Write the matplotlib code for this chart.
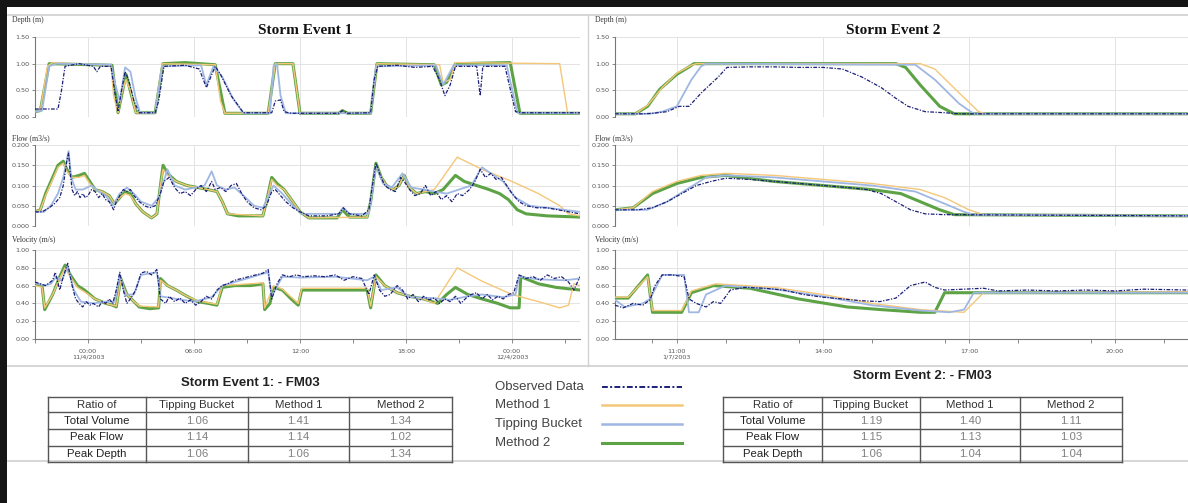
import numpy as np
import matplotlib.pyplot as plt
from matplotlib.lines import Line2D
from matplotlib.patches import Rectangle
from matplotlib.ticker import FormatStrFormatter, MultipleLocator

# ============================================================
# DATA  (time in hours, depth m, flow m3/s, velocity m/s)
# ============================================================

# --- Storm Event 1 (hours from 00:00 11/4/2003) ---
dep1_obs = [(-3.0, 0.15), (-1.7, 0.15), (-1.5, 0.5), (-1.3, 0.95), (-0.5, 1.0), (0.3, 0.95), (0.5, 0.85),
            (0.7, 0.95), (1.3, 0.95), (1.5, 0.5), (1.7, 0.1), (1.9, 0.5), (2.1, 0.85), (2.3, 0.7), (2.6, 0.3),
            (2.9, 0.08), (3.8, 0.08), (4.0, 0.3), (4.3, 0.95), (5.5, 0.97), (6.3, 0.9), (6.7, 0.55), (7.2, 0.95),
            (7.5, 0.8), (8.1, 0.4), (8.8, 0.08), (10.4, 0.08), (10.6, 0.3), (10.9, 0.32), (11.1, 0.1),
            (11.5, 0.07), (14.2, 0.07), (14.4, 0.12), (14.7, 0.07), (16.0, 0.08), (16.2, 0.7), (16.4, 0.95),
            (17.5, 0.97), (18.5, 0.93), (19.5, 0.95), (19.9, 0.7), (20.2, 0.4), (20.5, 0.6), (20.8, 0.95),
            (22.0, 0.95), (22.2, 0.4), (22.35, 0.95), (23.6, 0.95), (24.2, 0.1), (24.6, 0.08), (27.85, 0.08)]
dep1_m1 = [(-3.0, 0.1), (-2.7, 0.12), (-2.3, 0.95), (-2.0, 1.02), (1.3, 0.97), (1.45, 0.4), (1.7, 0.08),
           (1.95, 0.5), (2.15, 0.7), (2.4, 0.5), (2.7, 0.08), (3.8, 0.08), (4.2, 1.0), (7.2, 0.98), (7.5, 0.3),
           (7.75, 0.07), (10.2, 0.07), (10.6, 1.0), (11.6, 1.0), (12.0, 0.07), (16.0, 0.07), (16.36, 1.0),
           (19.9, 0.98), (20.1, 0.65), (20.5, 0.7), (20.8, 1.02), (26.7, 1.0), (27.15, 0.07), (27.85, 0.07)]
dep1_tb = [(-3.0, 0.1), (-2.6, 0.12), (-2.2, 0.95), (-1.8, 1.0), (1.3, 0.98), (1.55, 0.6), (1.8, 0.3),
           (2.1, 0.93), (2.4, 0.85), (2.7, 0.35), (2.95, 0.08), (3.8, 0.08), (4.2, 0.95), (6.4, 0.97), (6.7, 0.6),
           (7.1, 0.95), (7.6, 0.75), (8.2, 0.35), (8.8, 0.07), (10.3, 0.07), (10.5, 0.95), (10.7, 1.0),
           (10.9, 0.4), (11.2, 0.07), (16.0, 0.07), (16.3, 0.95), (19.7, 0.97), (20.1, 0.6), (20.7, 0.97),
           (23.7, 0.97), (24.3, 0.08), (27.85, 0.07)]
dep1_m2 = [(-3.0, 0.1), (-2.7, 0.12), (-2.2, 1.0), (1.36, 0.97), (1.7, 0.08), (2.15, 0.8), (2.72, 0.08),
           (3.8, 0.08), (4.24, 1.0), (5.5, 1.02), (7.2, 0.98), (7.75, 0.07), (10.2, 0.07), (10.6, 1.0),
           (11.6, 1.0), (12.0, 0.07), (14.2, 0.07), (14.4, 0.12), (14.7, 0.07), (16.0, 0.07), (16.36, 1.0),
           (19.6, 0.98), (20.0, 0.6), (20.3, 0.65), (20.8, 1.0), (23.9, 1.02), (24.45, 0.07), (27.85, 0.07)]

flow1_obs = [(-3.0, 0.035), (-2.6, 0.035), (-2.2, 0.045), (-1.9, 0.055), (-1.6, 0.07), (-1.4, 0.1), (-1.2, 0.16),
             (-1.1, 0.18), (-1.0, 0.13), (-0.9, 0.09), (-0.75, 0.075), (-0.6, 0.085), (-0.45, 0.07), (-0.3, 0.08),
             (-0.15, 0.07), (0.0, 0.075), (0.2, 0.09), (0.4, 0.085), (0.6, 0.07), (0.8, 0.08), (1.0, 0.065),
             (1.2, 0.06), (1.45, 0.04), (1.6, 0.06), (1.8, 0.075), (2.0, 0.09), (2.2, 0.085), (2.4, 0.09),
             (2.6, 0.075), (2.9, 0.06), (3.2, 0.05), (3.5, 0.045), (3.8, 0.05), (4.1, 0.08), (4.3, 0.11),
             (4.6, 0.12), (4.9, 0.095), (5.2, 0.08), (5.5, 0.085), (5.8, 0.075), (6.1, 0.09), (6.4, 0.1),
             (6.7, 0.085), (7.0, 0.11), (7.2, 0.09), (7.5, 0.095), (7.8, 0.085), (8.1, 0.1), (8.4, 0.105),
             (8.7, 0.08), (9.0, 0.06), (9.4, 0.045), (9.8, 0.04), (10.1, 0.05), (10.4, 0.085), (10.6, 0.09),
             (10.9, 0.075), (11.2, 0.06), (11.6, 0.045), (12.0, 0.035), (12.5, 0.025), (13.5, 0.025),
             (14.2, 0.03), (14.45, 0.045), (14.8, 0.03), (15.5, 0.025), (15.9, 0.04), (16.1, 0.1),
             (16.3, 0.155), (16.5, 0.13), (16.8, 0.1), (17.1, 0.09), (17.4, 0.085), (17.7, 0.12), (17.9, 0.11),
             (18.2, 0.09), (18.5, 0.075), (18.8, 0.08), (19.1, 0.1), (19.4, 0.075), (19.7, 0.085), (20.0, 0.065),
             (20.3, 0.075), (20.6, 0.06), (20.9, 0.08), (21.2, 0.075), (21.6, 0.09), (21.9, 0.11), (22.2, 0.14),
             (22.5, 0.12), (22.8, 0.13), (23.1, 0.115), (23.4, 0.12), (23.7, 0.1), (24.0, 0.08), (24.4, 0.06),
             (24.8, 0.05), (25.4, 0.045), (26.0, 0.045), (26.6, 0.04), (27.2, 0.035), (27.85, 0.03)]
flow1_m1 = [(-3.0, 0.035), (-2.7, 0.04), (-2.4, 0.075), (-2.0, 0.115), (-1.7, 0.145), (-1.4, 0.155),
            (-1.2, 0.135), (-0.9, 0.12), (-0.5, 0.12), (-0.2, 0.125), (0.1, 0.105), (0.4, 0.09), (0.8, 0.085),
            (1.2, 0.075), (1.5, 0.055), (1.8, 0.07), (2.1, 0.08), (2.4, 0.075), (2.7, 0.055), (3.1, 0.035),
            (3.6, 0.02), (3.9, 0.03), (4.1, 0.1), (4.25, 0.14), (4.5, 0.125), (5.0, 0.11), (5.6, 0.1),
            (6.2, 0.095), (6.8, 0.09), (7.3, 0.085), (7.6, 0.06), (7.9, 0.03), (9.9, 0.025), (10.1, 0.06),
            (10.4, 0.115), (10.7, 0.1), (11.1, 0.09), (11.6, 0.06), (12.0, 0.035), (12.5, 0.02), (15.8, 0.022),
            (16.0, 0.06), (16.3, 0.15), (16.6, 0.12), (16.9, 0.1), (17.3, 0.09), (17.6, 0.1), (17.9, 0.125),
            (18.2, 0.095), (18.6, 0.08), (19.1, 0.085), (19.6, 0.09), (20.9, 0.17), (22.3, 0.14), (24.0, 0.11),
            (25.5, 0.08), (26.7, 0.05), (27.2, 0.03), (27.85, 0.025)]
flow1_tb = [(-3.0, 0.035), (-2.5, 0.035), (-2.1, 0.05), (-1.7, 0.08), (-1.4, 0.12), (-1.1, 0.185), (-0.95, 0.12),
            (-0.7, 0.09), (-0.3, 0.09), (0.2, 0.1), (0.6, 0.085), (1.0, 0.075), (1.4, 0.05), (1.8, 0.08),
            (2.2, 0.095), (2.6, 0.08), (3.0, 0.06), (3.6, 0.05), (4.0, 0.07), (4.5, 0.14), (4.9, 0.1),
            (5.5, 0.09), (6.1, 0.095), (6.6, 0.1), (7.0, 0.135), (7.3, 0.1), (7.8, 0.09), (8.3, 0.095),
            (8.8, 0.075), (9.4, 0.05), (9.9, 0.045), (10.5, 0.1), (11.0, 0.08), (11.6, 0.05), (12.1, 0.03),
            (14.2, 0.03), (14.45, 0.045), (14.8, 0.03), (15.9, 0.03), (16.3, 0.15), (16.7, 0.105), (17.2, 0.095),
            (17.8, 0.13), (18.3, 0.095), (19.0, 0.09), (19.6, 0.085), (20.3, 0.08), (21.0, 0.09), (21.7, 0.1),
            (22.3, 0.145), (22.8, 0.13), (23.5, 0.11), (24.2, 0.07), (25.0, 0.05), (26.0, 0.045),
            (27.85, 0.035)]
flow1_m2 = [(-3.0, 0.035), (-2.7, 0.04), (-2.4, 0.08), (-2.0, 0.12), (-1.7, 0.15), (-1.4, 0.16), (-1.2, 0.14),
            (-0.9, 0.12), (-0.5, 0.125), (-0.2, 0.13), (0.1, 0.11), (0.4, 0.09), (0.8, 0.085), (1.2, 0.075),
            (1.5, 0.055), (1.8, 0.07), (2.1, 0.085), (2.4, 0.08), (2.7, 0.055), (3.1, 0.035), (3.6, 0.02),
            (3.9, 0.03), (4.1, 0.1), (4.25, 0.15), (4.5, 0.13), (5.0, 0.11), (5.6, 0.1), (6.2, 0.095),
            (6.8, 0.09), (7.3, 0.085), (7.6, 0.06), (7.9, 0.03), (8.5, 0.025), (9.9, 0.025), (10.1, 0.06),
            (10.4, 0.12), (10.7, 0.105), (11.1, 0.09), (11.6, 0.06), (12.0, 0.035), (12.5, 0.02), (14.1, 0.02),
            (14.4, 0.04), (14.8, 0.022), (15.8, 0.022), (16.0, 0.06), (16.3, 0.155), (16.6, 0.12), (16.9, 0.1),
            (17.3, 0.09), (17.6, 0.1), (17.9, 0.125), (18.2, 0.095), (18.6, 0.08), (19.1, 0.085), (19.6, 0.08),
            (20.1, 0.09), (20.8, 0.125), (21.3, 0.11), (22.0, 0.1), (22.7, 0.09), (23.3, 0.08), (23.8, 0.065),
            (24.3, 0.04), (24.8, 0.03), (26.0, 0.025), (27.85, 0.022)]

vel1_obs = [(-3.0, 0.64), (-2.7, 0.62), (-2.4, 0.6), (-2.0, 0.66), (-1.85, 0.75), (-1.6, 0.55), (-1.4, 0.7),
            (-1.15, 0.85), (-0.9, 0.6), (-0.7, 0.45), (-0.5, 0.4), (-0.3, 0.36), (-0.1, 0.42), (0.1, 0.38),
            (0.3, 0.4), (0.6, 0.36), (0.8, 0.42), (1.0, 0.4), (1.2, 0.45), (1.4, 0.4), (1.6, 0.55), (1.8, 0.75),
            (2.0, 0.55), (2.2, 0.4), (2.4, 0.45), (2.7, 0.55), (3.0, 0.74), (3.3, 0.76), (3.6, 0.72),
            (3.9, 0.78), (4.1, 0.45), (4.4, 0.4), (4.6, 0.48), (4.9, 0.42), (5.2, 0.46), (5.5, 0.4), (5.8, 0.44),
            (6.1, 0.38), (6.4, 0.42), (6.7, 0.48), (7.0, 0.45), (7.3, 0.55), (7.6, 0.6), (7.9, 0.62),
            (8.3, 0.66), (8.7, 0.68), (9.1, 0.7), (9.5, 0.72), (9.9, 0.74), (10.2, 0.78), (10.4, 0.45),
            (10.7, 0.62), (11.0, 0.72), (11.4, 0.7), (11.8, 0.72), (12.2, 0.7), (12.8, 0.71), (13.4, 0.7),
            (14.0, 0.72), (14.5, 0.66), (15.0, 0.7), (15.5, 0.68), (15.9, 0.5), (16.2, 0.72), (16.5, 0.55),
            (16.8, 0.48), (17.1, 0.5), (17.5, 0.6), (17.8, 0.55), (18.1, 0.45), (18.4, 0.5), (18.7, 0.42),
            (19.0, 0.48), (19.3, 0.44), (19.6, 0.46), (19.9, 0.4), (20.2, 0.45), (20.5, 0.42), (20.8, 0.48),
            (21.1, 0.4), (21.4, 0.46), (21.7, 0.5), (22.0, 0.52), (22.3, 0.45), (22.6, 0.5), (22.9, 0.44),
            (23.2, 0.48), (23.5, 0.45), (23.8, 0.5), (24.1, 0.52), (24.4, 0.72), (24.8, 0.68), (25.2, 0.7),
            (25.6, 0.66), (26.0, 0.72), (26.4, 0.68), (26.8, 0.7), (27.2, 0.64), (27.5, 0.55), (27.85, 0.7)]
vel1_m1 = [(-3.0, 0.6), (-2.6, 0.58), (-2.45, 0.35), (-2.0, 0.5), (-1.6, 0.68), (-1.3, 0.8), (-1.0, 0.7),
           (-0.6, 0.58), (-0.2, 0.53), (0.4, 0.45), (1.0, 0.4), (1.6, 0.37), (1.85, 0.65), (2.2, 0.5),
           (2.6, 0.42), (2.9, 0.37), (4.0, 0.36), (4.1, 0.66), (4.5, 0.6), (5.0, 0.55), (5.6, 0.48),
           (6.2, 0.43), (7.3, 0.39), (7.6, 0.6), (9.9, 0.63), (10.0, 0.35), (10.5, 0.6), (11.0, 0.56),
           (11.9, 0.4), (12.1, 0.57), (15.8, 0.57), (16.0, 0.37), (16.3, 0.7), (16.8, 0.6), (17.5, 0.52),
           (18.2, 0.48), (19.0, 0.45), (19.6, 0.4), (20.9, 0.8), (22.3, 0.65), (24.0, 0.5), (25.5, 0.42),
           (26.7, 0.35), (27.2, 0.38), (27.5, 0.62), (27.85, 0.6)]
vel1_tb = [(-3.0, 0.63), (-2.5, 0.6), (-2.1, 0.62), (-1.8, 0.7), (-1.5, 0.65), (-1.15, 0.82), (-0.8, 0.55),
           (-0.4, 0.42), (0.3, 0.4), (1.0, 0.42), (1.5, 0.42), (1.8, 0.72), (2.1, 0.5), (2.6, 0.5), (3.0, 0.72),
           (3.9, 0.75), (4.1, 0.48), (5.0, 0.45), (6.0, 0.42), (7.0, 0.47), (7.6, 0.6), (9.0, 0.68),
           (10.2, 0.75), (10.4, 0.48), (11.0, 0.7), (12.0, 0.69), (14.0, 0.7), (15.8, 0.66), (16.2, 0.7),
           (16.6, 0.55), (17.5, 0.58), (18.2, 0.47), (19.5, 0.46), (20.5, 0.44), (21.5, 0.48), (22.3, 0.5),
           (23.5, 0.47), (24.2, 0.5), (24.4, 0.7), (25.5, 0.67), (27.0, 0.66), (27.85, 0.68)]
vel1_m2 = [(-3.0, 0.62), (-2.6, 0.6), (-2.45, 0.33), (-2.0, 0.5), (-1.6, 0.7), (-1.3, 0.83), (-1.0, 0.72),
           (-0.6, 0.6), (-0.2, 0.55), (0.4, 0.45), (1.0, 0.4), (1.4, 0.38), (1.6, 0.36), (1.85, 0.68),
           (2.2, 0.5), (2.6, 0.42), (2.9, 0.36), (3.5, 0.34), (4.0, 0.35), (4.1, 0.68), (4.5, 0.6), (5.0, 0.55),
           (5.6, 0.48), (6.2, 0.42), (6.8, 0.4), (7.3, 0.38), (7.6, 0.58), (8.3, 0.6), (9.2, 0.6),
           (9.9, 0.62), (10.0, 0.33), (10.3, 0.4), (10.5, 0.58), (11.0, 0.55), (11.5, 0.45), (11.9, 0.38),
           (12.1, 0.55), (15.8, 0.55), (16.0, 0.35), (16.3, 0.72), (16.8, 0.6), (17.5, 0.52), (18.2, 0.48),
           (19.0, 0.45), (19.8, 0.4), (20.3, 0.5), (20.8, 0.58), (21.5, 0.5), (22.3, 0.45), (23.2, 0.4),
           (23.9, 0.35), (24.4, 0.35), (24.5, 0.7), (25.5, 0.62), (26.5, 0.58), (27.85, 0.55)]

# --- Storm Event 2 (hours of 1/7/2003) ---
dep2_obs = [(9.73, 0.06), (10.3, 0.06), (10.5, 0.07), (10.8, 0.1), (11.05, 0.2), (11.25, 0.2), (11.5, 0.45),
            (11.85, 0.75), (12.03, 0.93), (12.5, 0.94), (13.0, 0.94), (13.5, 0.93), (14.0, 0.93), (14.4, 0.9),
            (14.8, 0.75), (15.2, 0.55), (15.5, 0.35), (15.75, 0.2), (16.1, 0.1), (16.5, 0.08), (16.8, 0.06),
            (21.5, 0.06)]
dep2_m1 = [(9.73, 0.06), (10.15, 0.06), (10.4, 0.22), (10.7, 0.55), (11.0, 0.82), (11.3, 0.97), (11.4, 1.0),
           (16.0, 1.0), (16.3, 0.9), (16.8, 0.45), (17.2, 0.1), (17.35, 0.06), (21.5, 0.06)]
dep2_tb = [(9.73, 0.06), (10.45, 0.06), (10.7, 0.1), (11.0, 0.2), (11.3, 0.7), (11.5, 0.95), (11.6, 1.0),
           (15.9, 0.98), (16.3, 0.7), (16.8, 0.25), (17.1, 0.06), (21.5, 0.06)]
dep2_m2 = [(9.73, 0.06), (10.15, 0.06), (10.4, 0.2), (10.65, 0.52), (11.0, 0.8), (11.27, 0.95), (11.35, 1.0),
           (15.5, 1.0), (15.7, 0.93), (16.0, 0.6), (16.4, 0.2), (16.7, 0.06), (21.5, 0.06)]

flow2_obs = [(9.73, 0.04), (10.2, 0.04), (10.5, 0.045), (10.8, 0.06), (11.1, 0.08), (11.4, 0.1), (11.7, 0.11),
             (12.0, 0.118), (12.5, 0.115), (13.0, 0.11), (13.5, 0.105), (14.0, 0.1), (14.5, 0.095),
             (14.9, 0.09), (15.2, 0.08), (15.5, 0.06), (15.8, 0.04), (16.1, 0.03), (16.5, 0.028), (21.5, 0.025)]
flow2_m1 = [(9.73, 0.04), (10.1, 0.045), (10.5, 0.085), (11.0, 0.11), (11.5, 0.125), (12.0, 0.13),
            (13.0, 0.125), (14.0, 0.115), (15.0, 0.105), (16.0, 0.09), (16.5, 0.07), (17.0, 0.04),
            (17.3, 0.028), (21.5, 0.025)]
flow2_tb = [(9.73, 0.04), (10.4, 0.04), (10.8, 0.06), (11.2, 0.09), (11.6, 0.12), (12.0, 0.125), (13.0, 0.12),
            (14.0, 0.11), (15.0, 0.1), (15.9, 0.085), (16.4, 0.06), (16.9, 0.035), (17.1, 0.028), (21.5, 0.025)]
flow2_m2 = [(9.73, 0.04), (10.1, 0.045), (10.5, 0.08), (11.0, 0.105), (11.5, 0.12), (12.0, 0.125),
            (13.0, 0.11), (14.0, 0.1), (15.0, 0.09), (15.6, 0.08), (16.0, 0.06), (16.4, 0.04), (16.7, 0.028),
            (21.5, 0.025)]

vel2_obs = [(9.73, 0.38), (9.9, 0.35), (10.1, 0.4), (10.3, 0.38), (10.45, 0.44), (10.55, 0.6), (10.7, 0.72),
            (10.9, 0.72), (11.15, 0.7), (11.25, 0.45), (11.4, 0.4), (11.6, 0.36), (11.75, 0.42), (11.9, 0.4),
            (12.1, 0.55), (12.4, 0.58), (12.8, 0.57), (13.2, 0.55), (13.6, 0.5), (14.0, 0.47), (14.4, 0.45),
            (14.8, 0.43), (15.17, 0.42), (15.5, 0.46), (15.8, 0.6), (16.1, 0.64), (16.3, 0.58), (16.5, 0.55),
            (16.9, 0.56), (17.3, 0.57), (17.6, 0.54), (18.2, 0.55), (18.8, 0.54), (19.4, 0.55), (20.0, 0.54),
            (20.6, 0.56), (21.5, 0.55)]
vel2_m1 = [(9.73, 0.47), (10.0, 0.47), (10.4, 0.7), (10.5, 0.32), (11.1, 0.32), (11.3, 0.54), (11.8, 0.62),
           (13.0, 0.58), (14.0, 0.5), (15.0, 0.4), (16.0, 0.33), (16.9, 0.3), (17.3, 0.52), (21.5, 0.53)]
vel2_tb = [(9.73, 0.44), (9.93, 0.36), (10.3, 0.4), (10.45, 0.45), (10.7, 0.72), (11.15, 0.72), (11.25, 0.3),
           (11.45, 0.3), (11.6, 0.5), (12.0, 0.6), (13.0, 0.56), (14.0, 0.48), (15.0, 0.38), (16.0, 0.32),
           (16.6, 0.3), (16.9, 0.33), (17.1, 0.52), (21.5, 0.52)]
vel2_m2 = [(9.73, 0.46), (10.0, 0.46), (10.4, 0.72), (10.5, 0.3), (11.1, 0.3), (11.3, 0.52), (11.75, 0.6),
           (12.5, 0.57), (13.5, 0.45), (14.5, 0.36), (15.2, 0.33), (16.0, 0.3), (16.3, 0.3), (16.5, 0.52),
           (21.5, 0.52)]

# --- summary tables ---
table_cols = ["Ratio of", "Tipping Bucket", "Method 1", "Method 2"]
table_rows = ["Total Volume", "Peak Flow", "Peak Depth"]
ratios1 = [["1.06", "1.41", "1.34"], ["1.14", "1.14", "1.02"], ["1.06", "1.06", "1.34"]]
ratios2 = [["1.19", "1.40", "1.11"], ["1.15", "1.13", "1.03"], ["1.06", "1.04", "1.04"]]

# time axes
xlim1 = (-3.0, 27.85)
xticks1 = [0, 6, 12, 18, 24]
xlabels1 = ["00:00\n11/4/2003", "06:00", "12:00", "18:00", "00:00\n12/4/2003"]
xlim2 = (9.73, 21.5)
xticks2 = [11, 14, 17, 20]
xlabels2 = ["11:00\n1/7/2003", "14:00", "17:00", "20:00"]

# ============================================================
# STYLE
# ============================================================

W, H = 1188, 503
SERIES = ["Method 2", "Method 1", "Tipping Bucket", "Observed Data"]   # draw order
STYLE = {
    "Observed Data": dict(color="#1b1f78", lw=0.9, ls=(0, (3, 1.2, 1, 1.2)), zorder=5),
    "Method 1": dict(color="#f5c778", lw=1.0, ls="-", zorder=3),
    "Tipping Bucket": dict(color="#9fb7e2", lw=1.3, ls="-", zorder=4),
    "Method 2": dict(color="#5da346", lw=2.2, ls="-", zorder=2),
}
SERIF = ["Liberation Serif", "DejaVu Serif"]
SANS = ["Liberation Sans", "DejaVu Sans"]

fig = plt.figure(figsize=(W / 100, H / 100), dpi=100)

# page furniture: drawn in pixel coordinates on a full-figure axes
page = fig.add_axes([0, 0, 1, 1])
page.set_xlim(0, W)
page.set_ylim(H, 0)
page.axis("off")
page.add_patch(Rectangle((0, 0), W, 7, color="#151515", lw=0))
page.add_patch(Rectangle((0, 0), 7, H, color="#151515", lw=0))
page.plot([8, W], [15, 15], color="#cfcfcf", lw=1.2)
page.plot([588, 588], [15, 366], color="#d2d2d2", lw=1.0)
page.plot([8, W], [366, 366], color="#cfcfcf", lw=1.2)
page.plot([8, W], [461, 461], color="#cfcfcf", lw=1.2)


def px_axes(x0, y0, x1, y1):
    return fig.add_axes([x0 / W, 1 - y1 / H, (x1 - x0) / W, (y1 - y0) / H])


def setup(ax, xlim, xticks, minor, ylim, ystep, fmt, show_x, xlabels=None):
    ax.set_xlim(*xlim)
    ax.set_ylim(*ylim)
    ax.set_xticks(xticks)
    ax.xaxis.set_minor_locator(MultipleLocator(minor))
    ax.yaxis.set_major_locator(MultipleLocator(ystep))
    ax.yaxis.set_major_formatter(FormatStrFormatter(fmt))
    ax.grid(True, color="#e3e3e3", lw=0.7)
    ax.set_axisbelow(True)
    ax.patch.set_alpha(0)
    for s in ["top", "right"]:
        ax.spines[s].set_visible(False)
    ax.spines["left"].set_color("#777777")
    ax.spines["left"].set_linewidth(0.8)
    ax.tick_params(axis="y", labelsize=4.6, colors="#777777", length=2.5, width=0.6, pad=1.5)
    ax.tick_params(axis="y", labelcolor="#555555")
    if show_x:
        ax.spines["bottom"].set_color("#777777")
        ax.spines["bottom"].set_linewidth(0.8)
        ax.set_xticklabels(xlabels)
        ax.tick_params(axis="x", which="both", labelsize=4.6, colors="#777777", length=3, width=0.6, pad=4)
        ax.tick_params(axis="x", labelcolor="#555555")
    else:
        ax.spines["bottom"].set_visible(False)
        ax.tick_params(axis="x", which="both", length=0, labelbottom=False)


def draw(ax, series):
    for name in SERIES:
        t, v = np.array(series[name]).T
        st = STYLE[name]
        ax.plot(t, v, color=st["color"], lw=st["lw"], ls=st["ls"], zorder=st["zorder"],
                solid_joinstyle="round")


events = [
    dict(x0=35, x1=580, xlim=xlim1, xticks=xticks1, minor=3, xlabels=xlabels1, lab_x=12,
         title="Storm Event 1", title_x=305,
         depth={"Observed Data": dep1_obs, "Method 1": dep1_m1, "Tipping Bucket": dep1_tb, "Method 2": dep1_m2},
         flow={"Observed Data": flow1_obs, "Method 1": flow1_m1, "Tipping Bucket": flow1_tb, "Method 2": flow1_m2},
         vel={"Observed Data": vel1_obs, "Method 1": vel1_m1, "Tipping Bucket": vel1_tb, "Method 2": vel1_m2}),
    dict(x0=615, x1=1188, xlim=xlim2, xticks=xticks2, minor=1.5, xlabels=xlabels2, lab_x=595,
         title="Storm Event 2", title_x=893,
         depth={"Observed Data": dep2_obs, "Method 1": dep2_m1, "Tipping Bucket": dep2_tb, "Method 2": dep2_m2},
         flow={"Observed Data": flow2_obs, "Method 1": flow2_m1, "Tipping Bucket": flow2_tb, "Method 2": flow2_m2},
         vel={"Observed Data": vel2_obs, "Method 1": vel2_m1, "Tipping Bucket": vel2_tb, "Method 2": vel2_m2}),
]

for ev in events:
    ax_d = px_axes(ev["x0"], 37, ev["x1"], 117)
    setup(ax_d, ev["xlim"], ev["xticks"], ev["minor"], (0, 1.5), 0.5, "%.2f", False)
    draw(ax_d, ev["depth"])

    ax_f = px_axes(ev["x0"], 145, ev["x1"], 226)
    setup(ax_f, ev["xlim"], ev["xticks"], ev["minor"], (0, 0.2), 0.05, "%.3f", False)
    draw(ax_f, ev["flow"])

    ax_v = px_axes(ev["x0"], 250, ev["x1"], 339)
    setup(ax_v, ev["xlim"], ev["xticks"], ev["minor"], (0, 1.0), 0.2, "%.2f", True, ev["xlabels"])
    draw(ax_v, ev["vel"])

    page.text(ev["title_x"], 30, ev["title"], ha="center", va="center", fontsize=11,
              fontweight="bold", family=SERIF, color="#111111")
    for y, lab in [(20, "Depth (m)"), (138, "Flow (m3/s)"), (240, "Velocity (m/s)")]:
        page.text(ev["lab_x"], y, lab, ha="left", va="center", fontsize=5.5, family=SERIF, color="#333333")


def summary_table(cols_px, rows_px, title, title_xy, ratios):
    tx, ty = title_xy
    page.text(tx, ty, title, ha="center", va="center", fontsize=9.5, fontweight="bold",
              family=SANS, color="#222222")
    for y in rows_px:
        page.plot([cols_px[0], cols_px[-1]], [y, y], color="#555555", lw=1.0)
    for x in cols_px:
        page.plot([x, x], [rows_px[0], rows_px[-1]], color="#555555", lw=1.0)
    for j, head in enumerate(table_cols):
        cx = (cols_px[j] + cols_px[j + 1]) / 2
        cy = (rows_px[0] + rows_px[1]) / 2
        page.text(cx, cy, head, ha="center", va="center", fontsize=8.2, family=SANS, color="#333333")
    for i, row in enumerate(table_rows):
        cy = (rows_px[i + 1] + rows_px[i + 2]) / 2
        page.text((cols_px[0] + cols_px[1]) / 2, cy, row, ha="center", va="center", fontsize=8.2,
                  family=SANS, color="#222222")
        for j, val in enumerate(ratios[i]):
            cx = (cols_px[j + 1] + cols_px[j + 2]) / 2
            page.text(cx, cy, val, ha="center", va="center", fontsize=8.2, family=SANS, color="#808080")


row_lines = [397, 412, 429, 446, 462]
summary_table([48, 146, 248, 349, 452], row_lines, "Storm Event 1: - FM03", (250, 383), ratios1)
summary_table([723, 822, 920, 1020, 1122], row_lines, "Storm Event 2: - FM03", (922, 376), ratios2)

# legend
for name, y in zip(["Observed Data", "Method 1", "Tipping Bucket", "Method 2"], [387, 405, 424, 443]):
    st = STYLE[name]
    page.text(495, y, name, ha="left", va="center", fontsize=9.5, family=SANS, color="#444444")
    lw = 1.4 if name == "Observed Data" else max(st["lw"], 1.8)
    page.add_line(Line2D([602, 682], [y, y], color=st["color"], lw=lw, ls=st["ls"]))

fig.savefig("out.png", dpi=100)
